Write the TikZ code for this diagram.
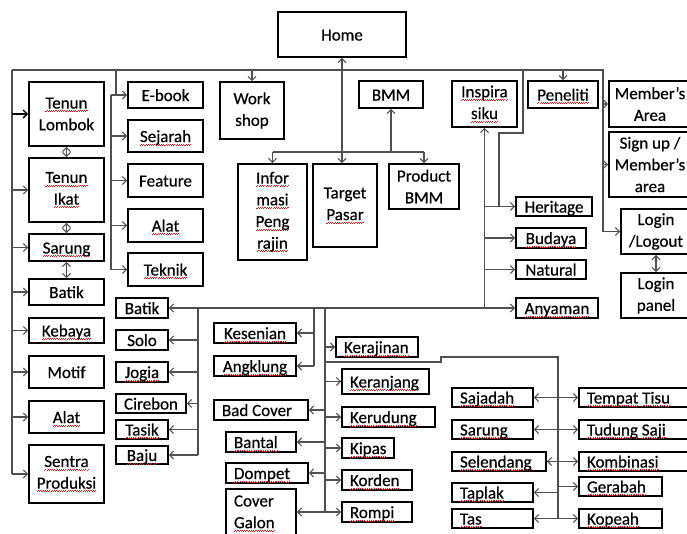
\documentclass[tikz,border=0pt]{standalone}
\usepackage{fontspec}
\setmainfont{Carlito}[FakeBold=0.5]
\usetikzlibrary{arrows.meta}
\definecolor{cgray}{HTML}{505050}
\definecolor{sqred}{HTML}{E02020}
\newcommand\sq[1]{\setbox0\hbox{#1}\leavevmode\rlap{\lower3.4pt\hbox to\wd0{\color{sqred}\xleaders\hbox{\rule[0pt]{1.1pt}{0.7pt}\rule[1pt]{1.1pt}{0.7pt}}\hfil}}\box0\relax}
\newcommand\bx[7][]{%
  \node[box,#1,minimum width={(#4-#2)*1pt},minimum height={(#5-#3)*1pt}] (#6) at ({(#2+#4)/2},{(#3+#5)/2}) {\spaceskip=0pt\xspaceskip=0pt\relax #7};}
\newcommand\lbx[7][one]{%
  \pgfmathsetmacro\tw{#4-#2-16}%
  \node[box,#1,align=left,text width=\tw pt,inner xsep=8pt,minimum width={(#4-#2)*1pt},minimum height={(#5-#3)*1pt}] (#6) at ({(#2+#4)/2},{(#3+#5)/2}) {\spaceskip=0pt\xspaceskip=0pt\relax #7};}
\begin{document}
\begin{tikzpicture}[x=1pt,y=-1pt,
  box/.style={draw=black,line width=1.7pt,fill=white,inner sep=0pt,align=center,
    font=\fontsize{17}{21.7}\selectfont},
  one/.style={text height=14pt,text depth=2pt},
  con/.style={draw=cgray,line width=1.1pt},
  arr/.style={con,-{Straight Barb[length=4pt,width=8pt]}},
  both/.style={con,{Straight Barb[length=4pt,width=8pt]}-{Straight Barb[length=4pt,width=8pt]}}]
\useasboundingbox (0,0) rectangle (687,533);
% top
\bx[one]{278}{12}{406}{57}{home}{Home}
% left column
\bx{29}{82}{104}{146}{lomb}{\sq{Tenun}\\Lombok}
\bx{29}{158}{104}{222}{ikat}{\sq{Tenun}\\\sq{Ikat}}
\bx[one]{29}{234}{104}{261}{sar1}{\sq{Sarung}}
\bx[one]{29}{279}{104}{305}{bat1}{Batik}
\bx[one]{29}{318}{104}{343}{keb}{\sq{Kebaya}}
\bx[one]{29}{356}{104}{388}{mot}{Motif}
\bx[one]{29}{401}{104}{433}{alat1}{\sq{Alat}}
\bx{29}{445}{104}{503}{sentra}{\sq{Sentra}\\\sq{Produksi}}
% second column
\bx[one]{128}{82}{203}{108}{ebook}{E-book}
\bx[one]{128}{120}{203}{152}{sej}{\sq{Sejarah}}
\bx[one]{128}{164}{203}{197}{feat}{Feature}
\bx[one]{128}{209}{203}{242}{alat2}{\sq{Alat}}
\bx[one]{128}{253}{203}{286}{tek}{\sq{Teknik}}
% middle top
\bx{220}{82}{284}{139}{ws}{Work\\shop}
\bx{238}{164}{307}{260}{info}{\sq{Infor}\\\sq{masi}\\\sq{Peng}\\\sq{rajin}}
\bx{313}{164}{377}{247}{target}{Target\\\sq{Pasar}}
\bx{389}{164}{459}{209}{prod}{Product\\BMM}
\bx[one]{359}{81}{423}{108}{bmm}{BMM}
\bx{452}{81}{517}{127}{insp}{\sq{Inspira}\\\sq{siku}}
\bx[one]{528}{81}{598}{108}{pen}{\sq{Peneliti}}
% right column
\bx{609}{81}{691}{127}{mem}{Member’s\\Area}
\bx{609}{132}{691}{197}{sign}{Sign up /\\Member’s\\area}
\bx{621}{209}{691}{254}{login}{Login\\/Logout}
\bx{621}{273}{691}{318}{lpan}{Login\\panel}
% inspirasiku children
\bx[one]{516}{197}{592}{216}{her}{Heritage}
\bx[one]{516}{228}{586}{248}{bud}{\sq{Budaya}}
\bx[one]{516}{260}{586}{279}{nat}{Natural}
\bx[one]{516}{298}{598}{318}{any}{\sq{Anyaman}}
% batik children
\bx[one]{116}{298}{168}{318}{bat2}{Batik}
\bx[one]{116}{330}{168}{350}{solo}{Solo}
\bx[one]{116}{362}{168}{382}{jog}{\sq{Jogia}}
\bx[one]{116}{394}{186}{413}{cir}{Cirebon}
\bx[one]{116}{420}{168}{439}{tas1}{\sq{Tasik}}
\bx[one]{116}{446}{168}{464}{baju}{\sq{Baju}}
% kesenian
\bx[one]{214}{323}{296}{343}{kes}{\sq{Kesenian}}
\bx[one]{214}{356}{296}{376}{ang}{\sq{Angklung}}
% kerajinan group
\lbx{336}{337}{418}{357}{keraj}{\sq{Kerajinan}}
\lbx{342}{369}{429}{394}{keranj}{\sq{Keranjang}}
\lbx{342}{407}{435}{427}{kerud}{\sq{Kerudung}}
\lbx{342}{438}{394}{458}{kipas}{\sq{Kipas}}
\lbx{342}{470}{412}{490}{korden}{\sq{Korden}}
\lbx{342}{502}{412}{522}{rompi}{\sq{Rompi}}
\lbx{214}{400}{308}{420}{badc}{Bad Cover}
\lbx{226}{432}{296}{452}{bantal}{\sq{Bantal}}
\lbx{226}{463}{308}{483}{dompet}{\sq{Dompet}}
\lbx[]{226}{489}{296}{538}{cgal}{Cover\\\sq{Galon}}
% right bottom group
\lbx{452}{388}{533}{407}{saj}{\sq{Sajadah}}
\lbx{452}{420}{533}{439}{sar2}{\sq{Sarung}}
\lbx{452}{452}{546}{471}{sel}{\sq{Selendang}}
\lbx{452}{483}{533}{502}{tap}{\sq{Taplak}}
\lbx{452}{509}{533}{528}{tas2}{\sq{Tas}}
\lbx{579}{388}{691}{407}{tisu}{\sq{Tempat} \sq{Tisu}}
\lbx{579}{420}{691}{439}{tud}{\sq{Tudung} \sq{Saji}}
\lbx{579}{452}{691}{471}{komb}{\sq{Kombinasi}}
\lbx{579}{477}{662}{496}{ger}{\sq{Gerabah}}
\lbx{579}{509}{662}{528}{kop}{\sq{Kopeah}}
% coordinates
\coordinate (TL) at (12,70);
\coordinate (TR) at (603,70);
\coordinate (C2) at (116,70);
\coordinate (C2b) at (111,95);
\coordinate (IB) at (343,152);
\coordinate (I1) at (523,70);
\coordinate (I2) at (523,133);
\coordinate (I3) at (499,133);
\coordinate (V) at (insp.south |- any.west);
\coordinate (B) at (198,308);
\coordinate (K) at (314,308);
\coordinate (M) at (325,308);
\coordinate (S1) at (325,362);
\coordinate (S2) at (441,362);
\coordinate (S3) at (441,357);
\coordinate (S4) at (558,357);
% top bus and right
\draw[con] (TL) -- (TR) -- (TR |- login.west);
\draw[arr] (TR |- login.west) -- (login.west);
\draw[arr] (TR |- mem.west) -- (mem.west);
\draw[arr] (TR |- sign.west) -- (sign.west);
\draw[both] (login.south) -- (lpan.north);
% left column
\draw[con] (TL) -- (TL |- sentra.west);
\draw[arr,draw=black,line width=1.5pt] (TL |- lomb.west) -- (lomb.west);
\foreach \n in {ikat,sar1,bat1,keb,mot,alat1,sentra}
  \draw[arr] (TL |- \n.west) -- (\n.west);
\draw[both] (lomb.south) -- (ikat.north);
\draw[both] (ikat.south) -- (sar1.north);
\draw[both] (sar1.south) -- (bat1.north);
% second column
\draw[con] (C2) -- (C2 |- ebook.west);
\draw[arr] (C2b) -- (ebook.west);
\draw[con] (C2b) -- (C2b |- tek.west);
\foreach \n in {sej,feat,alat2,tek}
  \draw[arr] (C2b |- \n.west) -- (\n.west);
% workshop, peneliti
\draw[arr] (ws.north |- TL) -- (ws.north);
\draw[arr] (pen.north |- TL) -- (pen.north);
% home / target / info / product / bmm
\draw[both] (home.south) -- (home.south |- target.north);
\draw[con] (info.north |- IB) -- (prod.north |- IB);
\draw[arr] (info.north |- IB) -- (info.north);
\draw[arr] (prod.north |- IB) -- (prod.north);
\draw[arr] (bmm.south |- IB) -- (bmm.south);
% inspirasiku
\draw[con] (I1) -- (I2) -- (I3) -- (I3 |- her.west);
\draw[arr] (V) -- (insp.south);
\draw[arr] (V) -- (any.west);
\draw[arr] (V) -- (bat2.east);
\foreach \n in {her,bud,nat}
  \draw[arr] (V |- \n.west) -- (\n.west);
% batik children
\draw[con] (B) -- (B |- baju.east);
\foreach \n in {solo,jog,cir,tas1,baju}
  \draw[arr] (B |- \n.east) -- (\n.east);
% kesenian
\draw[con] (K) -- (K |- ang.east);
\draw[arr] (K |- kes.east) -- (kes.east);
\draw[arr] (K |- ang.east) -- (ang.east);
% kerajinan
\draw[con] (M) -- (M |- rompi.west);
\foreach \n in {keraj,keranj,kerud,kipas,korden,rompi}
  \draw[arr] (M |- \n.west) -- (\n.west);
\foreach \n in {badc,bantal,dompet}
  \draw[arr] (M |- \n.east) -- (\n.east);
\draw[arr] (M |- rompi.west) -- (cgal.east |- rompi.west);
% right bottom
\draw[con] (S1) -- (S2) -- (S3) -- (S4) -- (S4 |- tas2.east);
\draw[both] (saj.east) -- (tisu.west);
\draw[both] (sar2.east) -- (tud.west);
\draw[both] (sel.east) -- (komb.west);
\draw[both] (tas2.east) -- (kop.west);
\draw[arr] (S4 |- tap.east) -- (tap.east);
\draw[arr] (S4 |- ger.west) -- (ger.west);
\end{tikzpicture}
\end{document}
